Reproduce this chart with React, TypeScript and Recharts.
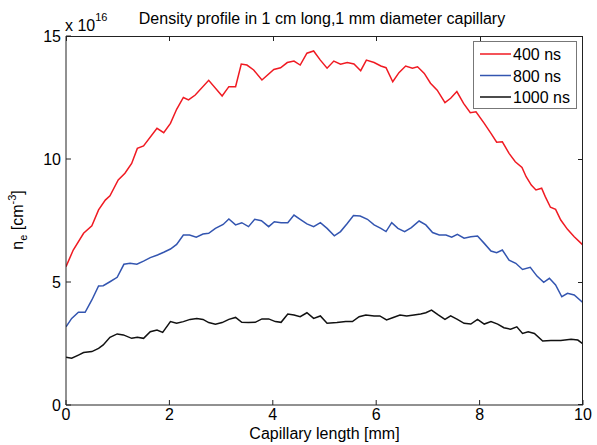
import React from "react"
import { LineChart, Line, XAxis, YAxis } from "recharts"

document.body.style.margin = "0"

// [position mm, n_e in 1e16 cm^-3]
const profile400: [number, number][] = [
  [0, 5.62], [0.14, 6.3], [0.34, 6.98], [0.5, 7.28], [0.63, 7.93], [0.76, 8.33], [0.85, 8.5], [1.01, 9.15],
  [1.14, 9.42], [1.27, 9.82], [1.38, 10.43], [1.5, 10.53], [1.76, 11.25], [1.89, 11.07], [2.02, 11.45],
  [2.14, 12.02], [2.27, 12.5], [2.37, 12.4], [2.5, 12.6], [2.76, 13.2], [3.02, 12.56], [3.15, 12.94],
  [3.28, 12.94], [3.39, 13.86], [3.5, 13.82], [3.63, 13.62], [3.79, 13.21], [4.02, 13.64], [4.15, 13.71],
  [4.28, 13.92], [4.41, 13.98], [4.53, 13.82], [4.66, 14.3], [4.79, 14.39], [4.92, 14.02], [5.05, 13.69],
  [5.18, 13.98], [5.31, 13.85], [5.44, 13.92], [5.57, 13.86], [5.7, 13.59], [5.81, 14.02], [5.96, 13.92],
  [6.09, 13.78], [6.19, 13.71], [6.32, 13.14], [6.44, 13.51], [6.57, 13.78], [6.7, 13.69], [6.8, 13.75],
  [6.93, 13.48], [7.05, 13.08], [7.18, 12.8], [7.33, 12.29], [7.44, 12.47], [7.56, 12.74], [7.69, 12.26],
  [7.82, 11.88], [7.93, 11.92], [8.09, 11.45], [8.22, 11.04], [8.33, 10.68], [8.44, 10.7], [8.57, 10.23],
  [8.69, 9.89], [8.82, 9.66], [8.9, 9.28], [9.0, 8.94], [9.09, 8.74], [9.2, 8.81], [9.27, 8.47],
  [9.37, 8.04], [9.47, 7.95], [9.57, 7.52], [9.7, 7.14], [9.83, 6.84], [10, 6.5],
]

const profile800: [number, number][] = [
  [0, 3.18], [0.11, 3.52], [0.24, 3.77], [0.37, 3.77], [0.5, 4.27], [0.63, 4.84], [0.72, 4.85], [0.85, 5.01],
  [0.99, 5.19], [1.12, 5.72], [1.24, 5.76], [1.37, 5.72], [1.5, 5.85], [1.63, 5.99], [1.77, 6.1], [1.89, 6.21],
  [2.02, 6.34], [2.14, 6.53], [2.27, 6.91], [2.39, 6.91], [2.52, 6.82], [2.65, 6.95], [2.76, 6.98], [2.89, 7.18],
  [3.04, 7.34], [3.15, 7.56], [3.28, 7.32], [3.4, 7.41], [3.53, 7.25], [3.65, 7.55], [3.78, 7.49], [3.92, 7.25],
  [4.03, 7.45], [4.16, 7.41], [4.29, 7.41], [4.41, 7.72], [4.53, 7.55], [4.66, 7.36], [4.79, 7.25], [4.92, 7.41],
  [5.05, 7.18], [5.19, 6.88], [5.31, 7.05], [5.44, 7.38], [5.56, 7.7], [5.69, 7.68], [5.83, 7.55], [5.96, 7.32],
  [6.09, 7.18], [6.19, 7.05], [6.3, 7.41], [6.42, 7.18], [6.55, 7.05], [6.68, 7.21], [6.83, 7.48], [6.96, 7.32],
  [7.09, 7.01], [7.22, 6.91], [7.35, 6.91], [7.46, 6.82], [7.57, 6.94], [7.7, 6.78], [7.83, 6.84], [7.96, 6.87],
  [8.09, 6.57], [8.22, 6.26], [8.33, 6.19], [8.44, 6.3], [8.57, 5.89], [8.7, 5.76], [8.83, 5.51], [8.98, 5.6],
  [9.11, 5.24], [9.24, 4.99], [9.35, 5.15], [9.47, 4.88], [9.59, 4.4], [9.7, 4.54], [9.83, 4.47], [10, 4.16],
]

const profile1000: [number, number][] = [
  [0, 1.94], [0.11, 1.9], [0.24, 2.03], [0.34, 2.13], [0.5, 2.17], [0.63, 2.3], [0.72, 2.44], [0.85, 2.75],
  [0.99, 2.89], [1.11, 2.85], [1.27, 2.71], [1.38, 2.75], [1.5, 2.71], [1.63, 2.98], [1.76, 3.05], [1.87, 2.95],
  [2.02, 3.39], [2.14, 3.32], [2.27, 3.39], [2.4, 3.48], [2.53, 3.52], [2.65, 3.48], [2.76, 3.35], [2.89, 3.28],
  [3.02, 3.35], [3.15, 3.48], [3.28, 3.56], [3.4, 3.36], [3.53, 3.35], [3.66, 3.36], [3.79, 3.5], [3.92, 3.5],
  [4.05, 3.39], [4.16, 3.36], [4.29, 3.7], [4.41, 3.66], [4.53, 3.59], [4.66, 3.75], [4.79, 3.52], [4.92, 3.62],
  [5.05, 3.32], [5.24, 3.35], [5.41, 3.39], [5.54, 3.39], [5.67, 3.59], [5.8, 3.66], [5.96, 3.62], [6.07, 3.62],
  [6.2, 3.46], [6.33, 3.56], [6.46, 3.66], [6.59, 3.62], [6.73, 3.66], [6.86, 3.7], [6.96, 3.75], [7.07, 3.86],
  [7.2, 3.66], [7.33, 3.48], [7.44, 3.62], [7.57, 3.48], [7.7, 3.32], [7.83, 3.29], [7.96, 3.48], [8.09, 3.29],
  [8.22, 3.39], [8.35, 3.29], [8.47, 3.14], [8.6, 3.08], [8.72, 3.18], [8.83, 2.91], [8.94, 2.98], [9.06, 2.91],
  [9.22, 2.6], [9.38, 2.62], [9.57, 2.62], [9.77, 2.67], [9.9, 2.64], [10, 2.48],
]

const seriesNames = ["400 ns", "800 ns", "1000 ns"]
const seriesColors = ["#f01a22", "#3355b0", "#111111"]
const xTicks = [0, 2, 4, 6, 8, 10]
const yTicks = [0, 5, 10, 15]
const xMax = 10
const yMax = 15

const FONT = "'Liberation Sans', Arial, sans-serif"
const AXIS = "#222"

const W = 597
const H = 445
const M = { top: 36, right: 14, bottom: 0, left: 0 }
const Y_AXIS_W = 66
const X_AXIS_H = 40

// plot box, used only for the top/right frame edges
const boxL = M.left + Y_AXIS_W
const boxR = W - M.right
const boxT = M.top
const boxB = H - M.bottom - X_AXIS_H

const series = [profile400, profile800, profile1000].map((pts, i) => ({
  name: seriesNames[i],
  color: seriesColors[i],
  data: pts.map(([x, n]) => ({ x, n })),
}))

const tickStyle = { fontSize: 16, fontFamily: FONT, fill: "#000" }

export default function App() {
  return (
    <div style={{ position: "relative", width: W, height: H }}>
      <LineChart width={W} height={H} margin={M}>
        <XAxis
          type="number"
          dataKey="x"
          domain={[0, xMax]}
          allowDataOverflow
          ticks={xTicks}
          interval={0}
          height={X_AXIS_H}
          tickSize={-5}
          tickMargin={9}
          tick={tickStyle}
          stroke={AXIS}
          label={{ value: "Capillary length [mm]", position: "insideBottom", offset: 6, fontSize: 16, fontFamily: FONT, fill: "#000" }}
        />
        <YAxis
          type="number"
          domain={[0, yMax]}
          allowDataOverflow
          ticks={yTicks}
          interval={0}
          width={Y_AXIS_W}
          tickSize={-5}
          tickMargin={10}
          tick={tickStyle}
          stroke={AXIS}
        />
        {series.map((s) => (
          <Line
            key={s.name}
            data={s.data}
            dataKey="n"
            name={s.name}
            type="linear"
            stroke={s.color}
            strokeWidth={1.5}
            dot={false}
            isAnimationActive={false}
          />
        ))}
        <text x={322} y={24} textAnchor="middle" fontSize={16} fontFamily={FONT} fill="#000">
          Density profile in 1 cm long,1 mm diameter capillary
        </text>
        <text x={65} y={31} fontSize={16} fontFamily={FONT} fill="#000">
          x 10<tspan fontSize={11} dy={-10}>16</tspan>
        </text>
        <text transform="translate(23,220) rotate(-90)" textAnchor="middle" fontSize={16} fontFamily={FONT} fill="#000">
          n<tspan fontSize={11} dy={4}>e</tspan>
          <tspan dy={-4}> [cm</tspan>
          <tspan fontSize={11} dy={-7}>-3</tspan>
          <tspan dy={7}>]</tspan>
        </text>
        <g>
          <rect x={473.5} y={41.5} width={103} height={67} fill="#fff" stroke="#777" strokeWidth={1} />
          {series.map((s, i) => (
            <g key={s.name}>
              <line x1={480} x2={511} y1={54 + i * 21.5} y2={54 + i * 21.5} stroke={s.color} strokeWidth={1.5} />
              <text x={513} y={54 + i * 21.5 + 6} fontSize={16} fontFamily={FONT} fill="#000">
                {s.name}
              </text>
            </g>
          ))}
        </g>
      </LineChart>
      {/* MATLAB style box: top and right edges with inward ticks */}
      <div
        style={{
          position: "absolute",
          left: boxL,
          top: boxT,
          width: boxR - boxL,
          height: boxB - boxT,
          boxSizing: "border-box",
          borderTop: `1px solid ${AXIS}`,
          borderRight: `1px solid ${AXIS}`,
          pointerEvents: "none",
        }}
      />
      {xTicks.map((t) => (
        <div
          key={"x" + t}
          style={{
            position: "absolute",
            left: Math.round(boxL + (t / xMax) * (boxR - boxL)) - (t === xMax ? 1 : 0),
            top: boxT,
            width: 1,
            height: 5,
            background: AXIS,
          }}
        />
      ))}
      {yTicks.map((t) => (
        <div
          key={"y" + t}
          style={{
            position: "absolute",
            left: boxR - 5,
            top: Math.round(boxB - (t / yMax) * (boxB - boxT)) - (t === 0 ? 1 : 0),
            width: 5,
            height: 1,
            background: AXIS,
          }}
        />
      ))}
    </div>
  )
}
